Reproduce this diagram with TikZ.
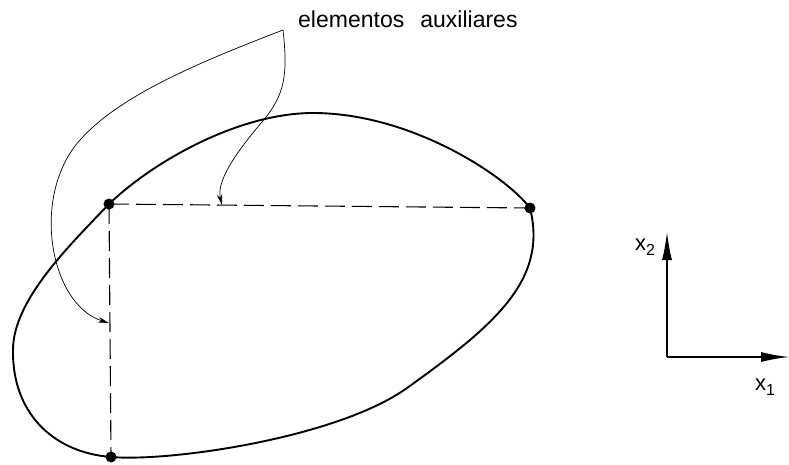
\documentclass[tikz,border=0pt]{standalone}
\usepackage{fontspec}
\setmainfont{Liberation Sans}
\usetikzlibrary{arrows.meta}
\begin{document}
\begin{tikzpicture}[x=1pt,y=-1pt,
  outline/.style={line width=1.9pt},
  aux/.style={line width=1.1pt, dash pattern=on 20pt off 7pt},
  leader/.style={line width=0.7pt,-{Stealth[length=11pt,width=5.5pt]}},
  axis/.style={line width=1.6pt,-{Latex[length=28pt,width=10pt]}},
  dot/.style={circle,fill=black,inner sep=0pt,minimum size=11pt},
  lbl/.style={font=\fontsize{22}{24}\selectfont,inner sep=0pt}]
\useasboundingbox (0,0) rectangle (789,464);
% points
\node[dot] (A) at (109,204) {};
\node[dot] (B) at (530,208) {};
\node[dot] (C) at (111,457) {};
% outline
\draw[outline] (A.center) .. controls (155,160) and (240,113) .. (313,113)
  .. controls (410,113) and (505,175) .. (B.center)
  .. controls (548,280) and (495,325) .. (407,388)
  .. controls (337,438) and (170,462) .. (C.center)
  .. controls (50,452) and (12,410) .. (13,350)
  .. controls (13,300) and (70,245) .. (A.center);
% auxiliary elements
\draw[aux] (A.center) -- (B.center);
\draw[aux] (A.center) -- (C.center);
\coordinate (t1) at (109,323);
\coordinate (t2) at (222,205);
\coordinate (apex) at (283,30);
% label
\node[font=\fontsize{23}{26}\selectfont,anchor=base west,inner sep=0pt] (L) at (298,27) {elementos\hspace{0.7em}auxiliares};
% leaders
\draw[leader] (apex) .. controls (200,62) and (120,95) .. (80,140)
  .. controls (30,196) and (50,305) .. (t1);
\draw[leader] (apex) .. controls (288,75) and (285,95) .. (262,122)
  .. controls (239,149) and (216,180) .. (t2);
% axes
\coordinate (O) at (667,357);
\coordinate (X) at (789,357);
\coordinate (Y) at (667,232);
\draw[axis] (O) -- (X);
\draw[axis] (O) -- (Y);
\node[lbl] (x2) at (645,247) {x\raisebox{-5pt}{\fontsize{16}{17}\selectfont 2}};
\node[lbl] (x1) at (765,387) {x\raisebox{-5pt}{\fontsize{16}{17}\selectfont 1}};
\end{tikzpicture}
\end{document}
